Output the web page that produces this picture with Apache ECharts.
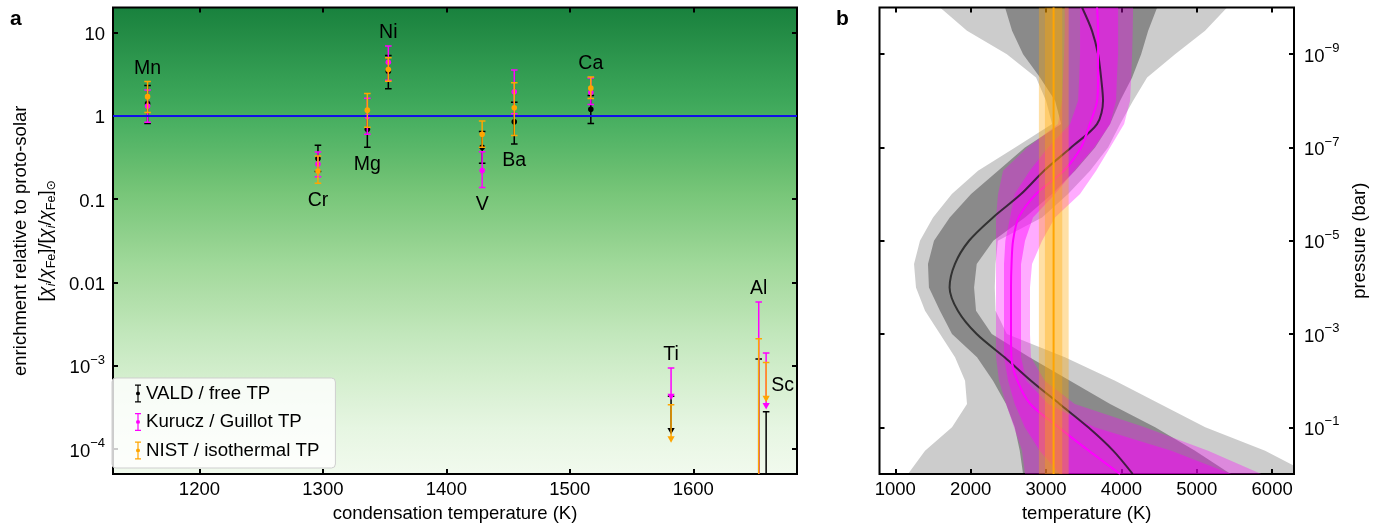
<!DOCTYPE html>
<html>
<head>
<meta charset="utf-8">
<script src="https://cdn.jsdelivr.net/npm/echarts@6/dist/echarts.min.js"></script>
<style>
html,body{margin:0;padding:0;background:#fff;}
#chart{width:1385px;height:528px;}
</style>
</head>
<body>
<div id="chart"></div>
<script>
// ---------------- Panel a data ----------------
const ELEMENTS = ['Mn','Cr','Mg','Ni','V','Ba','Ca','Ti','Al','Sc'];
const COND_TEMP = [1158,1296,1336,1353,1429,1455,1517,1582,1653,1659];

const VALD_VALUE = [1.40, 0.307, 0.69, 3.44, 0.42, 0.85, 1.20, 1.55e-4, 1.0e-5, 1.0e-5];
const VALD_LOWER = [0.81, 0.215, 0.42, 2.12, 0.27, 0.46, 0.81, 1.55e-4, 1.0e-6, 1.0e-6];
const VALD_UPPER = [2.32, 0.443, 0.99, 5.3, 0.65, 1.46, 1.76, 4.3e-4, 1.2e-3, 2.8e-4];
const VALD_LIMIT = [0,0,0,0,0,0,0,1,0,0];

const KURUCZ_VALUE = [1.31, 0.264, 0.98, 4.4, 0.22, 1.95, 1.91, 4.0e-4, 1.0e-5, 3.1e-4];
const KURUCZ_LOWER = [0.84, 0.185, 0.60, 2.67, 0.138, 1.06, 1.37, 4.0e-4, 1.0e-6, 3.1e-4];
const KURUCZ_UPPER = [2.04, 0.368, 1.63, 6.9, 0.37, 3.54, 2.85, 9.4e-4, 5.8e-3, 1.42e-3];
const KURUCZ_LIMIT = [0,0,0,0,0,0,0,1,0,1];

const NIST_VALUE = [1.70, 0.218, 1.17, 3.6, 0.60, 1.25, 2.15, 1.24e-4, 1.0e-5, 3.8e-4];
const NIST_LOWER = [1.10, 0.155, 0.73, 2.6, 0.42, 0.58, 1.62, 1.24e-4, 1.0e-6, 3.8e-4];
const NIST_UPPER = [2.59, 0.33, 1.86, 5.0, 0.87, 2.5, 2.92, 3.4e-4, 2.1e-3, 1.09e-3];
const NIST_LIMIT = [0,0,0,0,0,0,0,1,0,1];

const SOLAR_RATIO = 1;
const X_TICKS_A = [1200,1300,1400,1500,1600];
const Y_TICKS_A = [1e-4,1e-3,0.01,0.1,1,10];
const Y_TICK_LABELS_A = ['10{sup|\u22124}','10{sup|\u22123}','0.01','0.1','1','10'];

// ---------------- Panel b data ----------------
const PRESSURE = [1e-10,3.16e-10,1e-9,3.16e-9,1e-8,3.16e-8,1e-7,3.16e-7,1e-6,3.16e-6,1e-5,3.16e-5,1e-4,3.16e-4,1e-3,3.16e-3,1e-2,3.16e-2,1e-1,3.16e-1,1];

const FREE_MED = [3478,3610,3690,3730,3756,3676,3332,2973,2668,2296,1978,1790,1720,1830,2080,2450,2800,3180,3560,3890,4150];
const FREE_LO1 = [2456,2549,2695,2920,3120,3200,2720,2363,2005,1722,1513,1433,1446,1592,1752,2084,2296,2469,2584,2651,2695];
const FREE_HI1 = [4474,4355,4262,4142,3983,3850,3651,3385,3080,2721,2300,2080,2045,2071,2280,2780,3318,3850,4448,4977,5450];
const FREE_LO2 = [1593,1951,2480,2867,3000,3080,2590,2097,1750,1500,1327,1248,1274,1394,1593,1792,1925,1951,1752,1394,1168];
const FREE_HI2 = [5402,5110,4712,4341,4155,3983,3823,3584,3292,2947,2360,2330,2320,2330,2480,3250,3916,4514,5113,5907,6503];

const GUILLOT_MED = [3677,3690,3690,3690,3677,3580,3464,3235,2867,2637,2562,2542,2535,2535,2535,2540,2619,2791,3168,3566,3982];
const GUILLOT_LO1 = [3451,3451,3451,3440,3425,3319,3026,2783,2584,2522,2460,2442,2442,2442,2442,2442,2496,2584,2717,2916,3182];
const GUILLOT_HI1 = [3956,3956,3956,3940,3929,3850,3637,3372,3119,2827,2721,2668,2668,2668,2668,2668,2739,3030,3646,4663,5455];
const GUILLOT_LO2 = [3248,3248,3239,3225,3212,3159,2752,2429,2363,2336,2336,2336,2336,2336,2336,2336,2376,2469,2575,2681,2721];
const GUILLOT_HI2 = [4155,4150,4142,4130,4115,4036,3850,3664,3451,3119,2947,2814,2787,2787,2787,2800,2982,3381,4310,5150,5856];

const ISO_PRESSURE = [1e-10, 1];
const ISO_MED = [3100, 3100];
const ISO_LO1 = [2985, 2985];
const ISO_HI1 = [3215, 3215];
const ISO_LO2 = [2905, 2905];
const ISO_HI2 = [3300, 3300];

const X_TICKS_B = [1000,2000,3000,4000,5000,6000];
const Y_TICKS_B = [1e-9,1e-7,1e-5,1e-3,1e-1];
const Y_TICK_LABELS_B = ['10{sup|\u22129}','10{sup|\u22127}','10{sup|\u22125}','10{sup|\u22123}','10{sup|\u22121}'];

// ---------------- styling helpers ----------------
const FONT = 'Liberation Sans, Arial, DejaVu Sans, sans-serif';
const TICK_FS = 18.5;
const TITLE_FS = 18.5;
const LABEL_SIDE = ['top','bottom','bottom','top','bottom','bottom','top','top','top','right'];

const GREENS = [[0,[247,252,245]],[0.125,[229,245,224]],[0.25,[199,233,192]],[0.375,[161,217,155]],[0.5,[116,196,118]],[0.625,[65,171,93]],[0.75,[35,139,69]],[0.875,[0,109,44]],[1,[0,68,27]]];
function greens(v){
  for (let k=0;k<GREENS.length-1;k++){
    const a=GREENS[k], b=GREENS[k+1];
    if (v>=a[0] && v<=b[0]){
      const f=(v-a[0])/(b[0]-a[0]);
      const c=a[1].map((x,j)=>Math.round(x+(b[1][j]-x)*f));
      return 'rgb('+c.join(',')+')';
    }
  }
  return 'rgb(247,252,245)';
}
const gradStops=[];
for (let k=0;k<=20;k++){ const t=k/20; gradStops.push({offset:t, color:greens(0.79-0.75*t)}); }

function labelFor(ticks, labels){
  return function(v){
    let best=0, bd=Infinity;
    ticks.forEach((t,i)=>{ const d=Math.abs(Math.log10(t)-Math.log10(v)); if(d<bd){bd=d;best=i;} });
    const s=labels[best];
    const k=s.indexOf('{sup|');
    return k<0 ? '{base|'+s+'}' : '{base|'+s.slice(0,k)+'}'+s.slice(k);
  };
}
const supRich = {
  base:{fontSize:TICK_FS, fontFamily:FONT, color:'#000', lineHeight:24, verticalAlign:'bottom'},
  sup:{fontSize:13, fontFamily:FONT, color:'#000', lineHeight:13, verticalAlign:'top'}
};

function errorbarSeries(name, color, values, lowers, uppers, limits, z){
  return {
    name, type:'custom', xAxisIndex:0, yAxisIndex:0, clip:true, z, silent:true,
    itemStyle:{color},
    encode:{x:0, y:1},
    data: COND_TEMP.map((t,i)=>[t, values[i], lowers[i], uppers[i], limits[i]]),
    renderItem(params, api){
      const t=api.value(0), v=api.value(1), lo=api.value(2), hi=api.value(3), lim=api.value(4);
      const pv=api.coord([t,v]), plo=api.coord([t,lo]), phi=api.coord([t,hi]);
      const x=pv[0], cw=3.3;
      const st={stroke:color, lineWidth:1.5, fill:null};
      const ch=[];
      const yb = lim ? pv[1]-2 : plo[1];
      ch.push({type:'line', shape:{x1:x,y1:phi[1],x2:x,y2:yb}, style:st});
      ch.push({type:'line', shape:{x1:x-cw,y1:phi[1],x2:x+cw,y2:phi[1]}, style:st});
      if (lim){
        ch.push({type:'polygon', shape:{points:[[x-3.6,pv[1]-5],[x+3.6,pv[1]-5],[x,pv[1]+1.5]]}, style:{fill:color}});
      } else {
        ch.push({type:'line', shape:{x1:x-cw,y1:plo[1],x2:x+cw,y2:plo[1]}, style:st});
        ch.push({type:'circle', shape:{cx:x, cy:pv[1], r:2.8}, style:{fill:color}});
      }
      return {type:'group', children:ch};
    }
  };
}

function bandSeries(lo, hi, pres, color, z){
  return {
    type:'custom', xAxisIndex:2, yAxisIndex:2, clip:true, silent:true, z,
    encode:{x:0, y:1},
    data:[[lo[0], pres[0]]],
    renderItem(params, api){
      const pts=[];
      for (let i=0;i<pres.length;i++) pts.push(api.coord([lo[i], pres[i]]));
      for (let i=pres.length-1;i>=0;i--) pts.push(api.coord([hi[i], pres[i]]));
      return {type:'polygon', shape:{points:pts}, style:{fill:color, stroke:null}};
    }
  };
}
function medianSeries(med, pres, color, width, z){
  return {
    type:'line', xAxisIndex:2, yAxisIndex:2, silent:true, z, showSymbol:false, symbol:'none',
    smooth:0.3, clip:true,
    lineStyle:{color, width},
    data: pres.map((p,i)=>[med[i], p])
  };
}

// label anchors from the error bar extents
const ALL_UP=[VALD_UPPER,KURUCZ_UPPER,NIST_UPPER];
const ALL_LO=[VALD_LOWER,KURUCZ_LOWER,NIST_LOWER];
const labelData = ELEMENTS.map((el,i)=>{
  const ups = ALL_UP.map(a=>a[i]);
  const los = ALL_LO.map(a=>a[i]);
  let anchor;
  if (LABEL_SIDE[i]==='top') anchor=Math.max(...ups);
  else if (LABEL_SIDE[i]==='bottom') anchor=Math.min(...los);
  else anchor=Math.sqrt(Math.max(...ups)*Math.min(...ups));
  return [COND_TEMP[i], anchor, i];
});

const tickStyle = {inside:true, length:5, lineStyle:{color:'#000', width:2}};

const option = {
  animation:false,
  textStyle:{fontFamily:FONT, color:'#000'},
  grid:[
    {left:103, top:7.5, width:694, height:467.5, show:true, borderColor:'#000', borderWidth:2,
     backgroundColor:new echarts.graphic.LinearGradient(0,0,0,1,gradStops)},
    {left:879.5, top:7.5, width:414.5, height:467.5, show:true, borderColor:'#000', borderWidth:2, backgroundColor:'#fff'}
  ],
  xAxis:[
    {gridIndex:0, type:'value', min:1130, max:1684, position:'bottom',
     axisLine:{show:false}, splitLine:{show:false},
     axisTick:Object.assign({customValues:X_TICKS_A}, tickStyle),
     axisLabel:{customValues:X_TICKS_A, fontSize:TICK_FS, color:'#000', margin:6, fontFamily:FONT, formatter:(v)=>String(Math.round(v))},
     name:'condensation temperature (K)', nameLocation:'middle', nameGap:30,
     nameTextStyle:{fontSize:TITLE_FS, color:'#000', fontFamily:FONT}},
    {gridIndex:0, type:'value', min:1130, max:1684, position:'top',
     axisLine:{show:false}, splitLine:{show:false},
     axisTick:Object.assign({customValues:X_TICKS_A}, tickStyle),
     axisLabel:{show:false}},
    {gridIndex:1, type:'value', min:790, max:6290, position:'bottom',
     axisLine:{show:false}, splitLine:{show:false},
     axisTick:Object.assign({customValues:X_TICKS_B}, tickStyle),
     axisLabel:{customValues:X_TICKS_B, fontSize:TICK_FS, color:'#000', margin:6, fontFamily:FONT, formatter:(v)=>String(Math.round(v))},
     name:'temperature (K)', nameLocation:'middle', nameGap:30,
     nameTextStyle:{fontSize:TITLE_FS, color:'#000', fontFamily:FONT}},
    {gridIndex:1, type:'value', min:790, max:6290, position:'top',
     axisLine:{show:false}, splitLine:{show:false},
     axisTick:Object.assign({customValues:X_TICKS_B}, tickStyle),
     axisLabel:{show:false}}
  ],
  yAxis:[
    {gridIndex:0, type:'log', logBase:10, min:5e-5, max:20, position:'left',
     axisLine:{show:false}, splitLine:{show:false}, minorTick:{show:false},
     axisTick:Object.assign({customValues:Y_TICKS_A}, tickStyle),
     axisLabel:{customValues:Y_TICKS_A, margin:8, formatter:labelFor(Y_TICKS_A, Y_TICK_LABELS_A), rich:supRich},
     name:'enrichment relative to proto-solar\n{t|[}{ci|\u03c7}{si|i}{t|/}{ci|\u03c7}{s|Fe}{t|]/[}{ci|\u03c7}{si|i}{t|/}{ci|\u03c7}{s|Fe}{t|]}{s|\u2299}',
     nameLocation:'middle', nameGap:55, nameRotate:90,
     nameTextStyle:{fontSize:TITLE_FS, lineHeight:25, color:'#000', fontFamily:FONT,
       rich:{
         t:{fontSize:TITLE_FS, lineHeight:25, fontFamily:FONT, color:'#000'},
         ci:{fontSize:TITLE_FS, lineHeight:25, fontStyle:'italic', fontFamily:FONT, color:'#000'},
         si:{fontSize:12.5, lineHeight:12, fontStyle:'italic', verticalAlign:'bottom', fontFamily:FONT, color:'#000'},
         s:{fontSize:12.5, lineHeight:12, verticalAlign:'bottom', fontFamily:'Liberation Sans, DejaVu Sans, sans-serif', color:'#000'}
       }}},
    {gridIndex:0, type:'log', logBase:10, min:5e-5, max:20, position:'right',
     axisLine:{show:false}, splitLine:{show:false}, minorTick:{show:false},
     axisTick:Object.assign({customValues:Y_TICKS_A}, tickStyle),
     axisLabel:{show:false}},
    {gridIndex:1, type:'log', logBase:10, min:1e-10, max:1, inverse:true, position:'right',
     axisLine:{show:false}, splitLine:{show:false}, minorTick:{show:false},
     axisTick:Object.assign({customValues:Y_TICKS_B}, tickStyle),
     axisLabel:{customValues:Y_TICKS_B, margin:10, formatter:labelFor(Y_TICKS_B, Y_TICK_LABELS_B), rich:supRich},
     name:'pressure (bar)', nameLocation:'middle', nameGap:56, nameRotate:90,
     nameTextStyle:{fontSize:TITLE_FS, color:'#000', fontFamily:FONT}},
    {gridIndex:1, type:'log', logBase:10, min:1e-10, max:1, inverse:true, position:'left',
     axisLine:{show:false}, splitLine:{show:false}, minorTick:{show:false},
     axisTick:Object.assign({customValues:Y_TICKS_B}, tickStyle),
     axisLabel:{show:false}}
  ],
  legend:{
    left:112, top:378, orient:'vertical',
    data:['VALD / free TP','Kurucz / Guillot TP','NIST / isothermal TP'],
    icon:'path://M0,0H6V1.2H3.6V16.8H6V18H0V16.8H2.4V1.2H0Z M3,7A2,2 0 1 1 3,11A2,2 0 1 1 3,7Z',
    itemWidth:6, itemHeight:18, itemGap:9.5,
    padding:[6,16,8,23],
    backgroundColor:'rgba(255,255,255,0.8)', borderColor:'#cfcfcf', borderWidth:1, borderRadius:4,
    textStyle:{fontSize:18.7, color:'#000', fontFamily:FONT},
    selectedMode:false
  },
  graphic:[
    {type:'text', left:10, top:9, style:{text:'a', font:'bold 21px '+FONT, fill:'#000'}},
    {type:'text', left:836, top:9, style:{text:'b', font:'bold 21px '+FONT, fill:'#000'}}
  ],
  series:[
    {type:'line', xAxisIndex:0, yAxisIndex:0, data:[], silent:true, z:1,
     markLine:{symbol:'none', silent:true, animation:false, label:{show:false},
       lineStyle:{color:'#1010e8', width:2, type:'solid'}, data:[{yAxis:SOLAR_RATIO}]}},
    errorbarSeries('VALD / free TP', '#000000', VALD_VALUE, VALD_LOWER, VALD_UPPER, VALD_LIMIT, 3),
    errorbarSeries('Kurucz / Guillot TP', '#ff00ff', KURUCZ_VALUE, KURUCZ_LOWER, KURUCZ_UPPER, KURUCZ_LIMIT, 4),
    errorbarSeries('NIST / isothermal TP', '#ffa500', NIST_VALUE, NIST_LOWER, NIST_UPPER, NIST_LIMIT, 5),
    {type:'custom', xAxisIndex:0, yAxisIndex:0, silent:true, z:6, encode:{x:0,y:1},
     data:labelData,
     renderItem(params, api){
       const p=api.coord([api.value(0), api.value(1)]);
       const side=LABEL_SIDE[api.value(2)];
       const st={text:ELEMENTS[api.value(2)], fontSize:19.5, fontFamily:FONT, fill:'#000'};
       if (side==='top'){ st.x=p[0]; st.y=p[1]-3; st.align='center'; st.verticalAlign='bottom'; }
       else if (side==='bottom'){ st.x=p[0]; st.y=p[1]+7; st.align='center'; st.verticalAlign='top'; }
       else { st.x=p[0]+5; st.y=p[1]+3; st.align='left'; st.verticalAlign='middle'; }
       return {type:'text', style:st};
     }},
    // panel b
    bandSeries(FREE_LO2, FREE_HI2, PRESSURE, 'rgba(0,0,0,0.2)', 2),
    bandSeries(FREE_LO1, FREE_HI1, PRESSURE, 'rgba(0,0,0,0.32)', 2),
    bandSeries(GUILLOT_LO2, GUILLOT_HI2, PRESSURE, 'rgba(255,0,255,0.33)', 2),
    bandSeries(GUILLOT_LO1, GUILLOT_HI1, PRESSURE, 'rgba(255,0,255,0.45)', 2),
    medianSeries(FREE_MED, PRESSURE, 'rgba(20,20,20,0.75)', 2, 3),
    medianSeries(GUILLOT_MED, PRESSURE, '#ff00ff', 2, 3),
    bandSeries(ISO_LO2, ISO_HI2, ISO_PRESSURE, 'rgba(255,165,0,0.35)', 4),
    bandSeries(ISO_LO1, ISO_HI1, ISO_PRESSURE, 'rgba(255,165,0,0.35)', 4),
    medianSeries(ISO_MED, ISO_PRESSURE, '#ffa500', 2, 5)
  ]
};

const chart = echarts.init(document.getElementById('chart'), null, {renderer:'canvas', width:1385, height:528});
chart.setOption(option);
</script>
</body>
</html>
